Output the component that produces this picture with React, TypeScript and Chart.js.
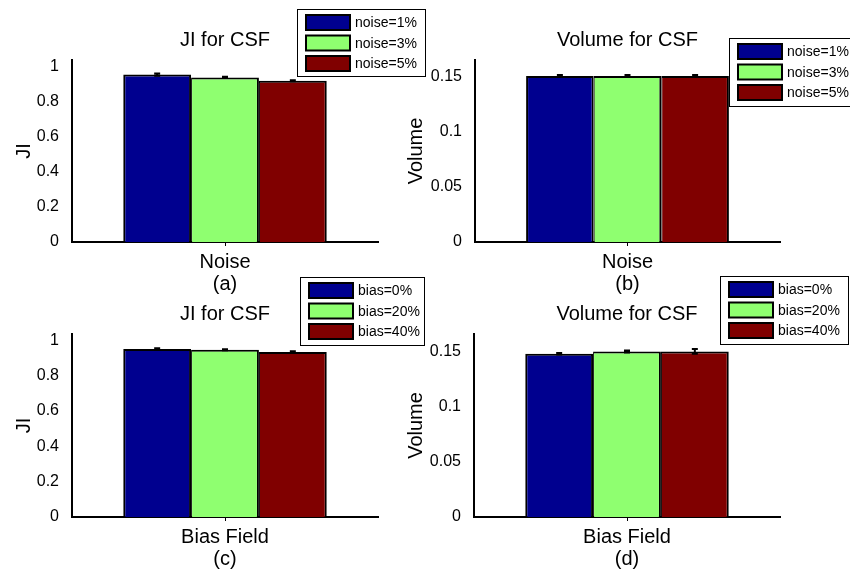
import React, { useEffect, useRef } from "react";
import { Chart, registerables } from "chart.js";
Chart.register(...registerables);

const noiseCategories = ["Noise"];
const biasCategories = ["Bias Field"];
const noiseLabels = ["noise=1%", "noise=3%", "noise=5%"];
const biasLabels = ["bias=0%", "bias=20%", "bias=40%"];
const seriesColors = ["#00008F", "#8FFF70", "#800000"];

const jiNoise = [0.953, 0.937, 0.918];
const jiNoiseErr = [0.006, 0.004, 0.003];
const volNoise = [0.151, 0.151, 0.151];
const volNoiseErr = [0.0008, 0.0008, 0.0008];
const jiBias = [0.95, 0.946, 0.933];
const jiBiasErr = [0.005, 0.003, 0.004];
const volBias = [0.1479, 0.15, 0.15];
const volBiasErr = [0.0007, 0.0009, 0.0022];

const jiTicks = [0, 0.2, 0.4, 0.6, 0.8, 1];
const volTicks = [0, 0.05, 0.1, 0.15];

const FONT = '"Liberation Sans", Arial, Helvetica, sans-serif';

type Panel = {
  categories: string[];
  labels: string[];
  values: number[];
  errors: number[];
  ticks: number[];
  yMax: number;
  yTitle: string;
  title: string;
  caption: string;
  area: { left: number; top: number; right: number; bottom: number };
  yTitleX: number;
  legend: { left: number; top: number; w: number; h: number };
};

const panels: Panel[] = [
  {
    categories: noiseCategories, labels: noiseLabels, values: jiNoise, errors: jiNoiseErr,
    ticks: jiTicks, yMax: 1.036, yTitle: "JI", title: "JI for CSF", caption: "(a)",
    area: { left: 72, top: 60, right: 378, bottom: 242 }, yTitleX: 24,
    legend: { left: 297, top: 9, w: 128, h: 67 },
  },
  {
    categories: noiseCategories, labels: noiseLabels, values: volNoise, errors: volNoiseErr,
    ticks: volTicks, yMax: 0.1655, yTitle: "Volume", title: "Volume for CSF", caption: "(b)",
    area: { left: 475, top: 60, right: 780, bottom: 242 }, yTitleX: 416,
    legend: { left: 729, top: 38, w: 128, h: 68 },
  },
  {
    categories: biasCategories, labels: biasLabels, values: jiBias, errors: jiBiasErr,
    ticks: jiTicks, yMax: 1.035, yTitle: "JI", title: "JI for CSF", caption: "(c)",
    area: { left: 72, top: 334, right: 378, bottom: 517 }, yTitleX: 24,
    legend: { left: 300, top: 277, w: 124, h: 68 },
  },
  {
    categories: biasCategories, labels: biasLabels, values: volBias, errors: volBiasErr,
    ticks: volTicks, yMax: 0.1658, yTitle: "Volume", title: "Volume for CSF", caption: "(d)",
    area: { left: 474, top: 334, right: 780, bottom: 517 }, yTitleX: 416,
    legend: { left: 720, top: 276, w: 128, h: 68 },
  },
];

const W = 850;
const H = 577;

function makeChart(canvas: HTMLCanvasElement, p: Panel) {
  const padLeft = p.yTitleX - 12;
  const yWidth = p.area.left - padLeft;
  const xHeight = 53;
  const padBottom = H - p.area.bottom - xHeight;

  const errorBars = {
    id: "errorBars",
    afterDatasetsDraw(chart: any) {
      const ctx = chart.ctx;
      const ys = chart.scales.y;
      ctx.save();
      ctx.strokeStyle = "#000";
      ctx.lineWidth = 2;
      p.values.forEach((v, i) => {
        const meta = chart.getDatasetMeta(i);
        const el = meta.data[0];
        if (!el) return;
        const x = el.x;
        const e = p.errors[i];
        const yt = ys.getPixelForValue(v + e);
        const yb = ys.getPixelForValue(v - e);
        ctx.beginPath();
        ctx.moveTo(x, yt);
        ctx.lineTo(x, yb);
        ctx.moveTo(x - 3, yt);
        ctx.lineTo(x + 3, yt);
        ctx.moveTo(x - 3, yb);
        ctx.lineTo(x + 3, yb);
        ctx.stroke();
      });
      ctx.restore();
    },
  };

  const legendBox = {
    id: "legendBox",
    afterDraw(chart: any) {
      const ctx = chart.ctx;
      const L = p.legend;
      ctx.save();
      ctx.fillStyle = "#fff";
      ctx.fillRect(L.left, L.top, L.w, L.h);
      ctx.strokeStyle = "#000";
      ctx.lineWidth = 1;
      ctx.strokeRect(L.left + 0.5, L.top + 0.5, L.w, L.h);
      ctx.font = `14px ${FONT}`;
      ctx.textBaseline = "middle";
      ctx.textAlign = "left";
      chart.data.datasets.forEach((ds: any, i: number) => {
        const cy = L.top + 13.5 + i * 20.5;
        ctx.fillStyle = ds.backgroundColor;
        ctx.fillRect(L.left + 9, cy - 7.5, 44, 15);
        ctx.lineWidth = 2;
        ctx.strokeStyle = "#000";
        ctx.strokeRect(L.left + 9, cy - 7.5, 44, 15);
        ctx.fillStyle = "#000";
        ctx.fillText(ds.label, L.left + 58, cy + 1);
      });
      ctx.restore();
    },
  };

  return new Chart(canvas, {
    type: "bar",
    data: {
      labels: p.categories,
      datasets: p.labels.map((lab, i) => ({
        label: lab,
        data: [p.values[i]],
        backgroundColor: seriesColors[i],
        borderColor: "#000",
        borderWidth: { top: 2, right: 2, bottom: 0, left: i === 0 ? 2 : 1 },
        borderSkipped: false,
        categoryPercentage: 0.665,
        barPercentage: 1,
      })),
    },
    options: {
      responsive: false,
      animation: false,
      devicePixelRatio: 1,
      layout: {
        padding: { left: padLeft, right: W - p.area.right, top: p.area.top - 32, bottom: padBottom },
      },
      plugins: {
        legend: { display: false },
        tooltip: { enabled: false },
        title: {
          display: true,
          text: p.title,
          fullSize: false,
          color: "#000",
          font: { family: FONT, size: 20, weight: "normal", lineHeight: 1.2 },
          padding: { top: 0, bottom: 8 },
        },
      },
      scales: {
        x: {
          type: "category",
          offset: true,
          grid: { display: true, drawOnChartArea: false, drawTicks: true, tickLength: 4, offset: false, color: "#000", lineWidth: 1 },
          border: { display: true, color: "#000", width: 2 },
          ticks: { display: false },
          title: {
            display: true,
            text: [p.categories[0], p.caption],
            color: "#000",
            font: { family: FONT, size: 20, weight: "normal", lineHeight: 1.1 },
            padding: { top: 0, bottom: 0 },
          },
          afterFit: (s: any) => { s.height = xHeight; },
        },
        y: {
          type: "linear",
          min: 0,
          max: p.yMax,
          grid: { display: false },
          border: { display: true, color: "#000", width: 2 },
          afterBuildTicks: (s: any) => { s.ticks = p.ticks.map((v) => ({ value: v })); },
          ticks: {
            color: "#000",
            padding: 5,
            font: { family: FONT, size: 16 },
            callback: (v: any) => String(Number(v)),
          },
          title: {
            display: true,
            text: p.yTitle,
            color: "#000",
            font: { family: FONT, size: 20, weight: "normal", lineHeight: 1.2 },
            padding: { top: 0, bottom: 0 },
          },
          afterFit: (s: any) => { s.width = yWidth; },
        },
      },
    } as any,
    plugins: [errorBars, legendBox],
  });
}

function PanelCanvas({ p }: { p: Panel }) {
  const ref = useRef<HTMLCanvasElement | null>(null);
  useEffect(() => {
    if (!ref.current) return;
    const c = makeChart(ref.current, p);
    return () => c.destroy();
  }, [p]);
  return (
    <canvas
      ref={ref}
      width={W}
      height={H}
      style={{ position: "absolute", left: 0, top: 0, width: W, height: H, display: "block" }}
    />
  );
}

export default function App() {
  return (
    <div style={{ position: "fixed", left: 0, top: 0, width: W, height: H, background: "#fff", overflow: "hidden" }}>
      {panels.map((p, i) => (
        <PanelCanvas key={i} p={p} />
      ))}
    </div>
  );
}
